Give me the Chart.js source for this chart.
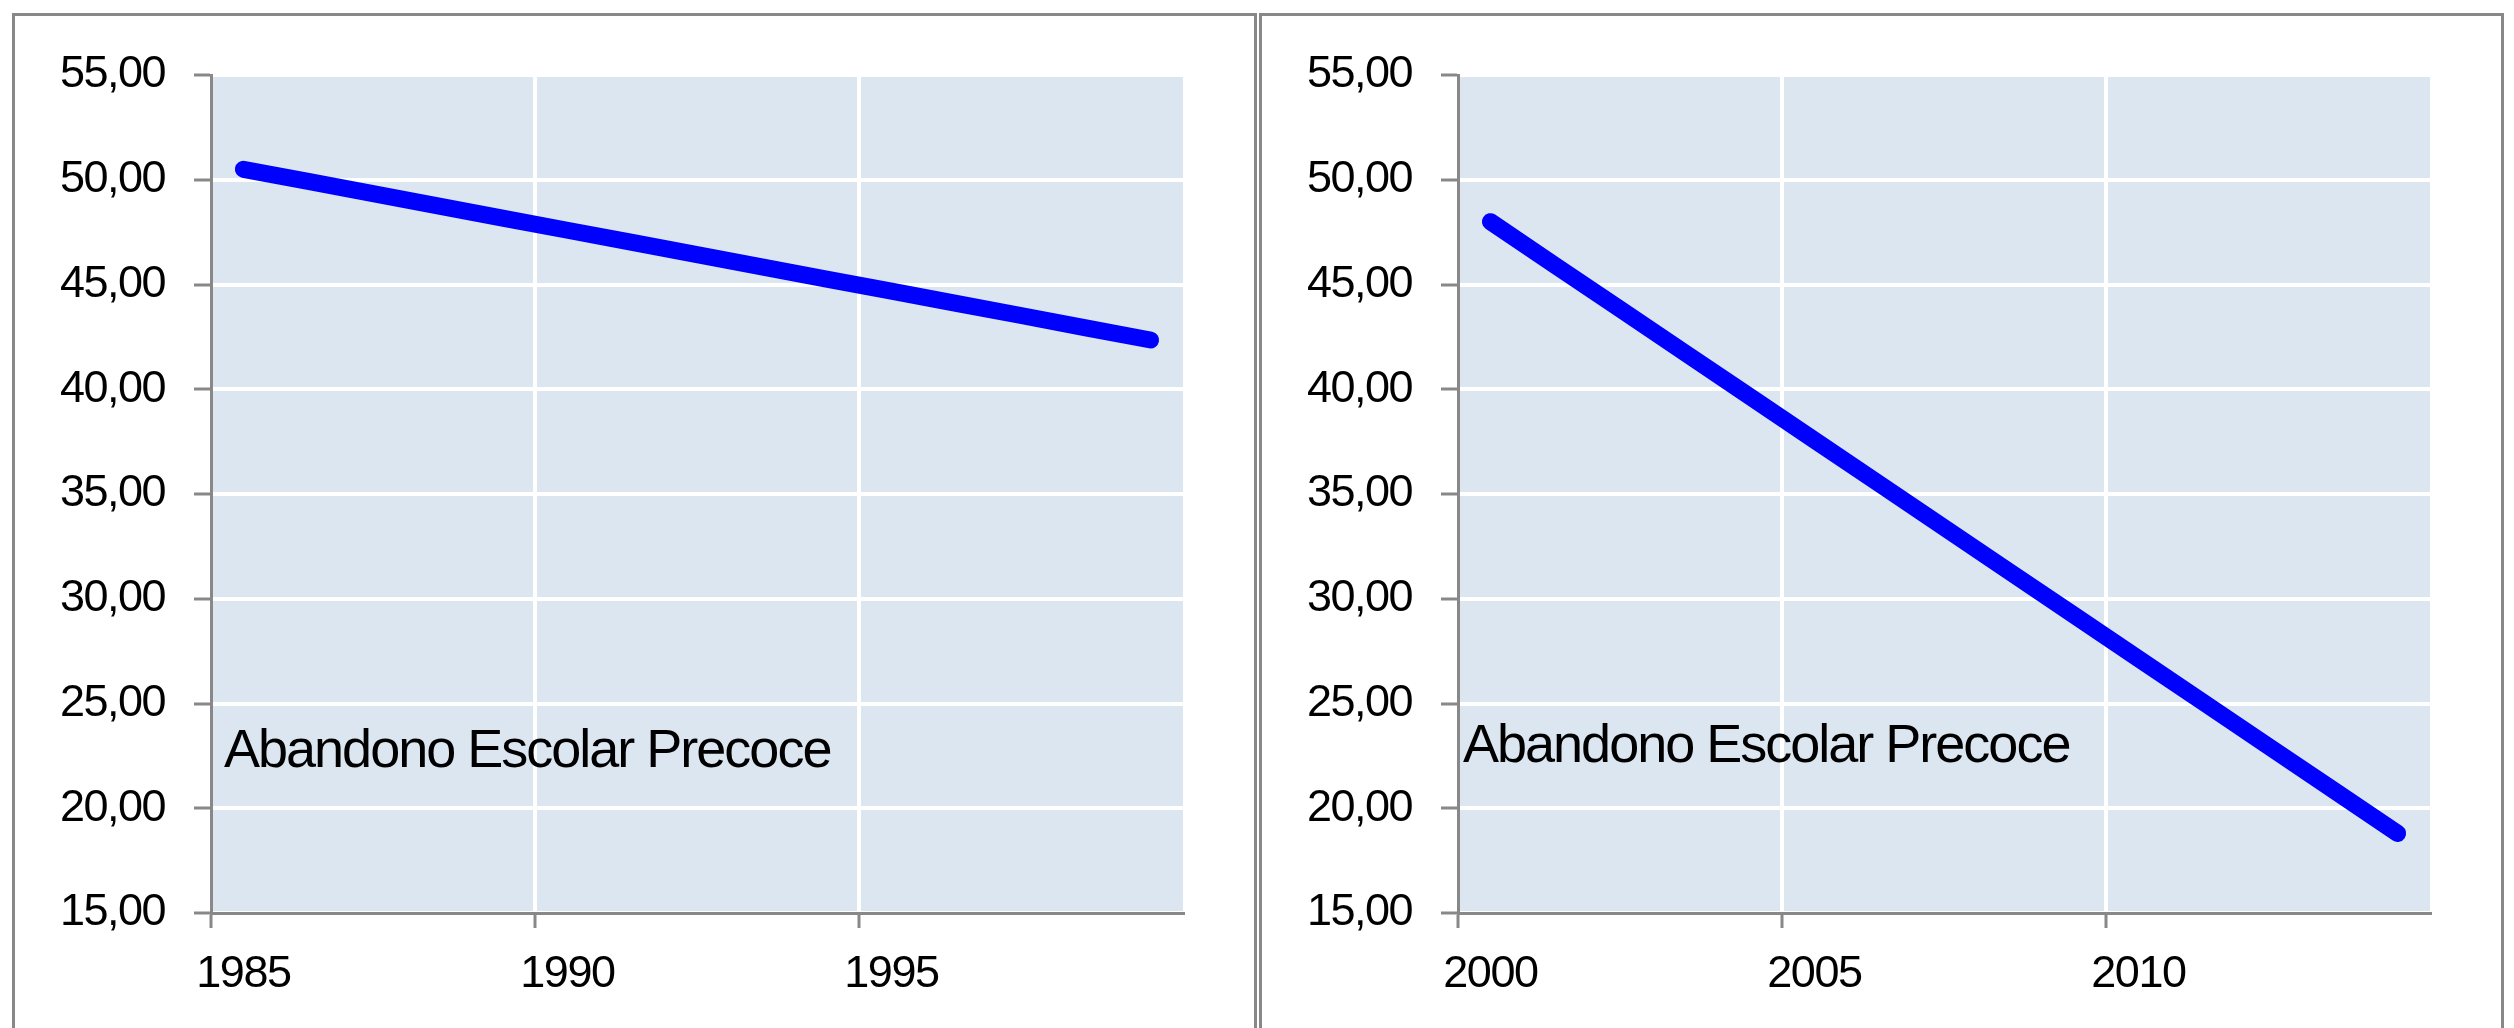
<!DOCTYPE html>
<html>
<head>
<meta charset="utf-8">
<script src="https://cdn.jsdelivr.net/npm/chart.js@4"></script>
<style>
  html, body { margin: 0; padding: 0; background: #fff; overflow: hidden; }
  body { width: 2514px; height: 1028px; position: relative; }
  .painel { position: absolute; top: 13px; width: 1239px; height: 1040px; border: 3px solid #888; background: #fff; }
  #painel1 { left: 12px; }
  #painel2 { left: 1259px; }
  canvas { position: absolute; left: 0; top: 0; }
</style>
</head>
<body>
<div class="painel" id="painel1"><canvas id="grafico1" width="1239" height="1012"></canvas></div>
<div class="painel" id="painel2"><canvas id="grafico2" width="1239" height="1012"></canvas></div>
<script>
// dados
const anos1 = ['1985', '1986', '1987', '1988', '1989', '1990', '1991', '1992', '1993', '1994', '1995', '1996', '1997', '1998', '1999']
const abandono1 = [50.5, 49.92, 49.34, 48.75, 48.17, 47.59, 47.01, 46.43, 45.84, 45.26, 44.68, 44.1, 43.52, 42.93, 42.35]
const anos2 = ['2000', '2001', '2002', '2003', '2004', '2005', '2006', '2007', '2008', '2009', '2010', '2011', '2012', '2013', '2014']
const abandono2 = [48.0, 45.91, 43.83, 41.74, 39.66, 37.57, 35.49, 33.4, 31.31, 29.23, 27.14, 25.06, 22.97, 20.89, 18.8]
const yMin = 15
const yMax = 55
const yPasso = 5
const rotulo = 'Abandono Escolar Precoce'

const fonte = 'Liberation Sans, Arial, Helvetica, sans-serif'

const fundoPlugin = {
    id: 'fundo',
    beforeDraw(chart) {
        const a = chart.chartArea
        const ctx = chart.ctx
        ctx.save()
        ctx.fillStyle = '#dce6f1'
        ctx.fillRect(a.left, a.top, a.right - a.left, a.bottom - a.top)
        ctx.restore()
        ctx.letterSpacing = '-1.5px'
    },
    afterDraw(chart, args, opts) {
        const a = chart.chartArea
        const ctx = chart.ctx
        ctx.save()
        ctx.letterSpacing = '-2px'
        ctx.font = '54px ' + fonte
        ctx.fillStyle = '#000'
        ctx.textBaseline = 'alphabetic'
        ctx.fillText(opts.texto, a.left + opts.dx, a.top + opts.dy)
        ctx.restore()
    }
}

function criarGrafico(id, labels, valores, dx, dy) {
    return new Chart(document.getElementById(id), {
        type: 'line',
        data: {
            labels: labels,
            datasets: [{
                label: rotulo,
                data: valores,
                borderColor: '#0000ff',
                borderWidth: 17,
                borderCapStyle: 'round',
                borderJoinStyle: 'round',
                pointRadius: 0,
                tension: 0
            }]
        },
        options: {
            responsive: false,
            animation: false,
            events: [],
            layout: { padding: { top: 59, right: 71, left: 0, bottom: 0 } },
            plugins: {
                legend: { display: false },
                tooltip: { enabled: false },
                fundo: { texto: rotulo, dx: dx, dy: dy }
            },
            scales: {
                x: {
                    type: 'category',
                    offset: true,
                    afterFit: s => { s.height = 115 },
                    grid: {
                        offset: true,
                        lineWidth: 4,
                        color: c => c.index % 5 === 0 ? '#ffffff' : 'rgba(0,0,0,0)',
                        tickColor: c => c.index % 5 === 0 ? '#888888' : 'rgba(0,0,0,0)',
                        tickWidth: 3,
                        tickLength: 15
                    },
                    border: { color: '#888888', width: 3 },
                    ticks: {
                        autoSkip: false,
                        maxRotation: 0,
                        padding: 20,
                        color: '#000',
                        font: { family: fonte, size: 45 },
                        callback: (v, i) => i % 5 === 0 ? labels[i] : ''
                    }
                },
                y: {
                    min: yMin,
                    max: yMax,
                    afterFit: s => { s.width = 196 },
                    grid: {
                        lineWidth: 4,
                        color: '#ffffff',
                        tickColor: '#888888',
                        tickWidth: 3,
                        tickLength: 17
                    },
                    border: { color: '#888888', width: 3 },
                    ticks: {
                        stepSize: yPasso,
                        padding: 29,
                        color: '#000',
                        font: { family: fonte, size: 45 },
                        callback: v => v.toFixed(2).replace('.', ',')
                    }
                }
            }
        },
        plugins: [fundoPlugin]
    })
}

criarGrafico('grafico1', anos1, abandono1, 13, 692)
criarGrafico('grafico2', anos2, abandono2, 5, 687)
</script>
</body>
</html>
